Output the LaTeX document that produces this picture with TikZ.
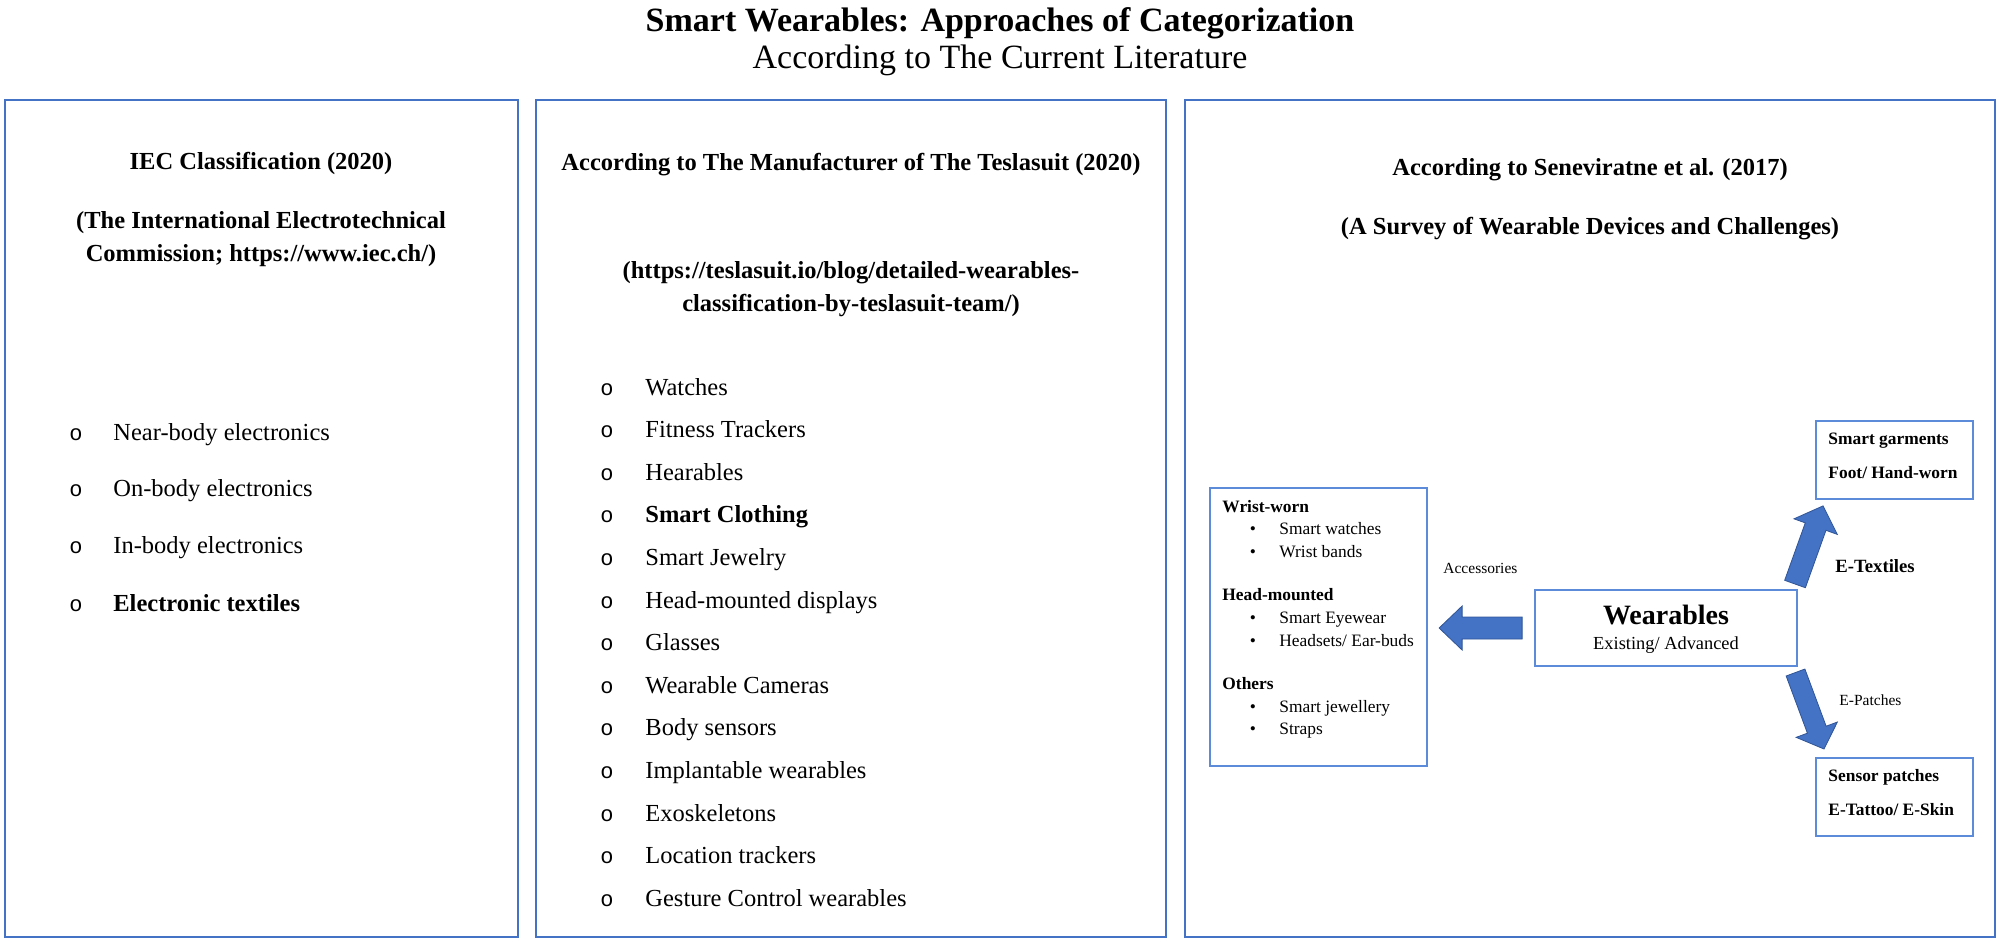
\documentclass[tikz,border=0pt]{standalone}
\usepackage{fontspec}
\setmainfont{Liberation Serif}
\newfontfamily\bulfont{Liberation Mono}
\usetikzlibrary{fit}
\definecolor{panelblue}{HTML}{4472C4}
\definecolor{boxblue}{HTML}{5B8BD9}
\definecolor{arrowedge}{HTML}{2F5597}
\begin{document}
\begin{tikzpicture}[x=0.5pt,y=-0.5pt,
  panel/.style={draw=panelblue, line width=1.3pt, inner sep=0pt},
  ibox/.style={draw=boxblue, line width=0.9pt, inner sep=0pt},
  blockarrow/.style={fill=panelblue, draw=arrowedge, line width=0.4pt},
  txt/.style={inner sep=0pt, anchor=base west},
  ctr/.style={inner sep=0pt, anchor=base},
  hd/.style={ctr, font=\fontsize{12.25}{14}\selectfont\bfseries},
  li/.style={txt, font=\fontsize{12.25}{14}\selectfont},
  libold/.style={txt, font=\fontsize{12.25}{14}\selectfont\bfseries},
  bul/.style={ctr, font=\fontsize{11}{13}\selectfont\bulfont},
  sm/.style={txt, font=\fontsize{8.7}{10}\selectfont},
  smb/.style={txt, font=\fontsize{8.7}{10}\selectfont\bfseries},
  dot/.style={ctr, font=\fontsize{8.7}{10}\selectfont},
  lbl/.style={txt, font=\fontsize{7.75}{9}\selectfont}]
\useasboundingbox (0,0) rectangle (2000,943);

% title
\node[ctr, font=\fontsize{17}{20}\selectfont\bfseries] (title) at (1000,31) {Smart Wearables: Approaches of Categorization};
\node[ctr, font=\fontsize{17}{20}\selectfont] (subtitle) at (1000,68) {According to The Current Literature};

% panels
\node[panel, fit={(5,100)(518,937)}] (pleft) {};
\node[panel, fit={(536,100)(1166,937)}] (pmid) {};
\node[panel, fit={(1185,100)(1995,937)}] (pright) {};

% left panel
\node[hd] (lh1) at (261,169) {IEC Classification (2020)};
\node[hd] (lh2) at (261,228) {(The International Electrotechnical};
\node[hd] (lh3) at (261,261) {Commission; https://www.iec.ch/)};
\foreach \y/\t/\s [count=\i] in {440/Near-body electronics/li, 496/On-body electronics/li, 553/In-body electronics/li, 611/Electronic textiles/libold} {
  \node[bul] (lb\i) at (76,\y) {o};
  \node[\s] (lt\i) at (113,\y) {\t};
}

% middle panel
\node[hd] (mh1) at (851,170) {According to The Manufacturer of The Teslasuit (2020)};
\node[hd] (mh2) at (851,278) {(https://teslasuit.io/blog/detailed-wearables-};
\node[hd] (mh3) at (851,311) {classification-by-teslasuit-team/)};
\foreach \t/\s [count=\i] in {Watches/li, Fitness Trackers/li, Hearables/li, Smart Clothing/libold, Smart Jewelry/li, Head-mounted displays/li, Glasses/li, Wearable Cameras/li, Body sensors/li, Implantable wearables/li, Exoskeletons/li, Location trackers/li, Gesture Control wearables/li} {
  \pgfmathsetmacro{\yy}{395+(\i-1)*42.6}
  \node[bul] (mb\i) at (607,\yy) {o};
  \node[\s] (mt\i) at (645,\yy) {\t};
}

% right panel
\node[hd] (rh1) at (1590,175) {According to Seneviratne et al. (2017)};
\node[hd] (rh2) at (1590,234) {(A Survey of Wearable Devices and Challenges)};

\node[ibox, fit={(1210,488)(1427,766)}] (wrist) {};
\node[smb] (w1) at (1222,512) {Wrist-worn};
\node[dot] (wd1) at (1253,534) {•};
\node[sm] (w2) at (1279,534) {Smart watches};
\node[dot] (wd2) at (1253,557) {•};
\node[sm] (w3) at (1279,557) {Wrist bands};
\node[smb] (w4) at (1222,600) {Head-mounted};
\node[dot] (wd3) at (1253,623) {•};
\node[sm] (w5) at (1279,623) {Smart Eyewear};
\node[dot] (wd4) at (1253,646) {•};
\node[sm] (w6) at (1279,646) {Headsets/ Ear-buds};
\node[smb] (w7) at (1222,689) {Others};
\node[dot] (wd5) at (1253,712) {•};
\node[sm] (w8) at (1279,712) {Smart jewellery};
\node[dot] (wd6) at (1253,734) {•};
\node[sm] (w9) at (1279,734) {Straps};

\node[ibox, fit={(1535,590)(1797,666)}] (wear) {};
\node[ctr, font=\fontsize{14}{16}\selectfont\bfseries] (wt1) at (1666,624) {Wearables};
\node[ctr, font=\fontsize{9.2}{11}\selectfont] (wt2) at (1666,649) {Existing/ Advanced};

\node[ibox, fit={(1816,421)(1973,499)}] (garm) {};
\node[smb] (g1) at (1828,444) {Smart garments};
\node[smb] (g2) at (1828,478) {Foot/ Hand-worn};

\node[ibox, fit={(1816,758)(1973,836)}] (patch) {};
\node[smb] (p1) at (1828,781) {Sensor patches};
\node[smb] (p2) at (1828,815) {E-Tattoo/ E-Skin};

\node[lbl] (acc) at (1443,573) {Accessories};
\node[txt, font=\fontsize{9.35}{11}\selectfont\bfseries] (etex) at (1835,572) {E-Textiles};
\node[lbl] (epat) at (1839,705) {E-Patches};

% block arrows
\begin{scope}[shift={(wear.west)}]
  \draw[blockarrow] (-12,-11) -- (-72,-11) -- (-72,-22) -- (-95,0) -- (-72,22) -- (-72,11) -- (-12,11) -- cycle;
\end{scope}
\begin{scope}[shift={(1795,584)}, rotate=70.25]
  \draw[blockarrow] (0,-11) -- (61,-11) -- (61,-23) -- (83,0) -- (61,23) -- (61,11) -- (0,11) -- cycle;
\end{scope}
\begin{scope}[shift={(1795.5,672.5)}, rotate=-69.6]
  \draw[blockarrow] (0,-10) -- (61,-10) -- (61,-22) -- (81.6,0) -- (61,22) -- (61,10) -- (0,10) -- cycle;
\end{scope}
\end{tikzpicture}
\end{document}
